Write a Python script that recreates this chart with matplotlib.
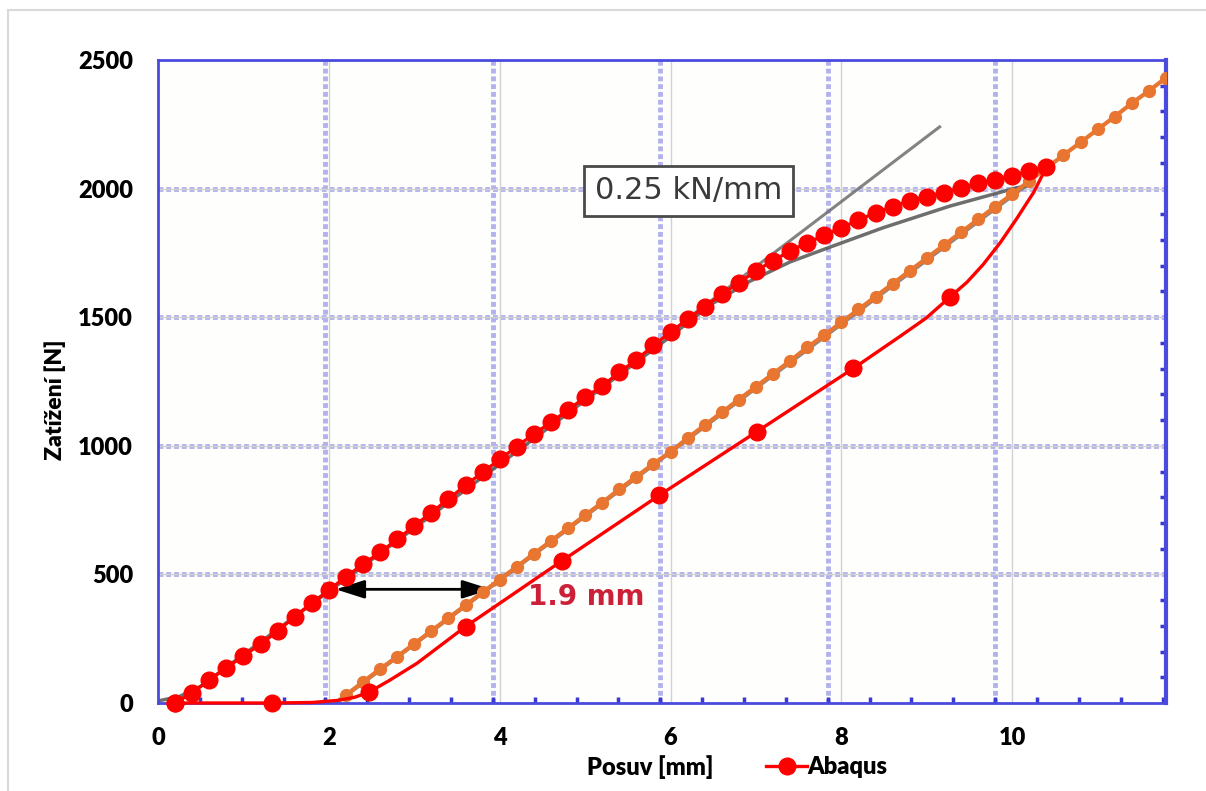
import numpy as np
import matplotlib.pyplot as plt
from matplotlib.patches import Rectangle
from matplotlib.ticker import FixedLocator, MultipleLocator

plt.rcParams['font.family'] = ['Lato', 'DejaVu Sans']

# Abaqus - zatezovani (husté body)
load_x = [0.2, 0.4, 0.6, 0.8, 1.0, 1.2, 1.4, 1.6, 1.8, 2.0, 2.2, 2.4, 2.6,
          2.8, 3.0, 3.2, 3.4, 3.6, 3.8, 4.0, 4.2, 4.4, 4.6, 4.8, 5.0, 5.2,
          5.4, 5.6, 5.8, 6.0, 6.2, 6.4, 6.6, 6.8, 7.0, 7.2, 7.4, 7.6, 7.8,
          8.0, 8.2, 8.4, 8.6, 8.8, 9.0, 9.2, 9.4, 9.6, 9.8, 10.0, 10.2, 10.4]
load_y = [0, 40, 89, 137, 183, 229, 279, 336, 388, 439, 491, 539, 586,
          636, 689, 740, 793, 846, 897, 947, 997, 1046, 1091, 1139, 1189, 1232,
          1286, 1334, 1390, 1442, 1492, 1541, 1589, 1634, 1680, 1720, 1757, 1790, 1818,
          1848, 1878, 1906, 1930, 1953, 1968, 1984, 2001, 2021, 2033, 2049, 2070, 2083]

# Abaqus - odlehceni (body krivky, 1 = s markerem)
unload_x = [10.25, 10.05, 9.86, 9.66, 9.47, 9.27, 8.99, 8.68, 8.14, 7.01, 5.87, 4.73,
            3.60, 3.03, 2.71, 2.47, 2.30, 2.10, 1.80, 1.34, 0.2]
unload_y = [1985, 1882, 1790, 1705, 1636, 1578, 1496, 1424, 1301, 1055, 808, 553,
            297, 154, 88, 42, 22, 10, 2, 0, 0]
unload_mark = [0, 0, 0, 0, 0, 1, 0, 0, 1, 1, 1, 1, 1, 0, 0, 1, 0, 0, 0, 1, 1]

# oranzova rada
exp_x = [2.2, 2.4, 2.6, 2.8, 3.0, 3.2, 3.4, 3.6, 3.8, 4.0, 4.2, 4.4, 4.6,
         4.8, 5.0, 5.2, 5.4, 5.6, 5.8, 6.0, 6.2, 6.4, 6.6, 6.8, 7.0, 7.2,
         7.4, 7.6, 7.8, 8.0, 8.2, 8.4, 8.6, 8.8, 9.0, 9.2, 9.4, 9.6, 9.8,
         10.0, 10.2, 10.4, 10.6, 10.8, 11.0, 11.2, 11.4, 11.6, 11.8]
exp_y = [30, 82, 132, 180, 230, 280, 330, 380, 430, 480, 530, 580, 630,
         680, 730, 779, 831, 880, 930, 976, 1030, 1080, 1130, 1180, 1230, 1280,
         1330, 1383, 1430, 1480, 1530, 1580, 1630, 1680, 1730, 1780, 1830, 1880, 1930,
         1978, 2030, 2080, 2130, 2180, 2230, 2280, 2332, 2380, 2431]

# naskenovany graf v pozadi
scan_load_x = [0.0, 0.25, 0.5, 3.0, 6.0, 6.45, 6.93, 7.4, 7.83, 8.49, 9.27, 10.05, 10.2]
scan_load_y = [8, 25, 65, 680, 1425, 1545, 1640, 1715, 1768, 1848, 1932, 2003, 2012]
scan_tan_x = [6.3, 9.15]
scan_tan_y = [1520, 2240]
scan_unload_x = [2.1, 10.15]
scan_unload_y = [5, 2010]
scan_grid_x = [1.96, 3.92, 5.88, 7.84, 9.80]

xticks = [0, 2, 4, 6, 8, 10]
yticks = [0, 500, 1000, 1500, 2000, 2500]

fig = plt.figure(figsize=(12.06, 7.91), dpi=100)
ax = fig.add_axes([158/1206, 1-703/791, 1008/1206, 643/791])
ax.set_facecolor('#fefefc')
ax.set_xlim(0, 11.8)
ax.set_ylim(0, 2500)

# okraj obrazku
fig.patches.append(Rectangle((7.5/1206, -0.1), 1.2, 1.1 - 10.5/791,
                             transform=fig.transFigure, fill=False,
                             edgecolor='#d9d9d9', lw=1.5))

# mrizka ze skenu (modra, teckovana)
for gx in scan_grid_x:
    ax.axvline(gx, color='#b2b2ec', lw=3.5, ls=(0, (1, 0.6)), zorder=1)
for gy in yticks[1:-1]:
    ax.axhline(gy, color='#b2b2ec', lw=3.5, ls=(0, (1, 0.6)), zorder=1)
# mrizka z Excelu
for gx in xticks[1:]:
    ax.axvline(gx, color='#d2d2d2', lw=1, zorder=1.5)
for gy in yticks[1:-1]:
    ax.axhline(gy, color='#d2d2d2', lw=1, zorder=1.5)

# sede krivky ze skenu
ax.plot(scan_load_x, scan_load_y, color='#555555', lw=2.5, alpha=0.85, zorder=2)
ax.plot(scan_tan_x, scan_tan_y, color='#6e6e6e', lw=2.2, alpha=0.85, zorder=2)
ax.plot(scan_unload_x, scan_unload_y, color='#6a6a6a', lw=3, alpha=0.8, zorder=2)

ax.text(6.21, 1991, '0.25 kN/mm', fontsize=22, color='#3a3a3a', ha='center',
        va='center', family='DejaVu Sans', zorder=2.5,
        bbox=dict(boxstyle='square,pad=0.35', fc='white', ec='#4a4a4a', lw=2))
ax.annotate('', xy=(2.08, 442), xytext=(3.9, 442), zorder=2.5,
            arrowprops=dict(arrowstyle='<|-|>,head_length=1.1,head_width=0.35',
                            color='black', lw=2, mutation_scale=16, shrinkA=0, shrinkB=0))
ax.text(4.33, 412, '1.9 mm', fontsize=20, color='#cc2038', fontweight='bold',
        family='DejaVu Sans', va='center', zorder=2.5)

# oranzova
ax.plot(exp_x, exp_y, color='#e87530', lw=3, marker='o', ms=8.5, zorder=3)

# Abaqus
ab_x = load_x + unload_x
ab_y = load_y + unload_y
marks = list(range(len(load_x))) + [len(load_x) + i for i, m in enumerate(unload_mark) if m]
line, = ax.plot(ab_x, ab_y, color='#ff0000', lw=2.4, marker='o', ms=12,
                markevery=marks, zorder=4, label='Abaqus', clip_on=False)

# osy
for s in ax.spines.values():
    s.set_color('#4a4ade')
    s.set_linewidth(2)
ax.spines['right'].set_linewidth(3)
ax.set_xticks(xticks)
ax.set_yticks(yticks)
ax.xaxis.set_minor_locator(FixedLocator(np.arange(0.49, 11.8, 0.49)))
ax.yaxis.set_minor_locator(MultipleLocator(100))
ax.tick_params(which='major', length=0, labelsize=17, pad=18)
ax.tick_params(axis='x', which='major', pad=17)
ax.tick_params(which='minor', direction='in', color='#3a3ad0', width=2.5, length=4,
               left=False, right=True)
for lbl in ax.get_xticklabels() + ax.get_yticklabels():
    lbl.set_fontweight('heavy')

fig.text(650/1206, 1-767/791, 'Posuv [mm]', ha='center', va='center',
         fontsize=17, fontweight='heavy')
fig.text(55/1206, 1-400/791, 'Zatížení [N]', ha='center', va='center',
         rotation=90, fontsize=16.5, fontweight='heavy')
fig.legend(handles=[line], loc='center left', bbox_to_anchor=(757/1206, 1-767/791),
           frameon=False, handlelength=1.7, handletextpad=0.05, borderaxespad=0,
           prop=dict(size=17, weight='heavy'))

fig.savefig('out.png', dpi=100)
